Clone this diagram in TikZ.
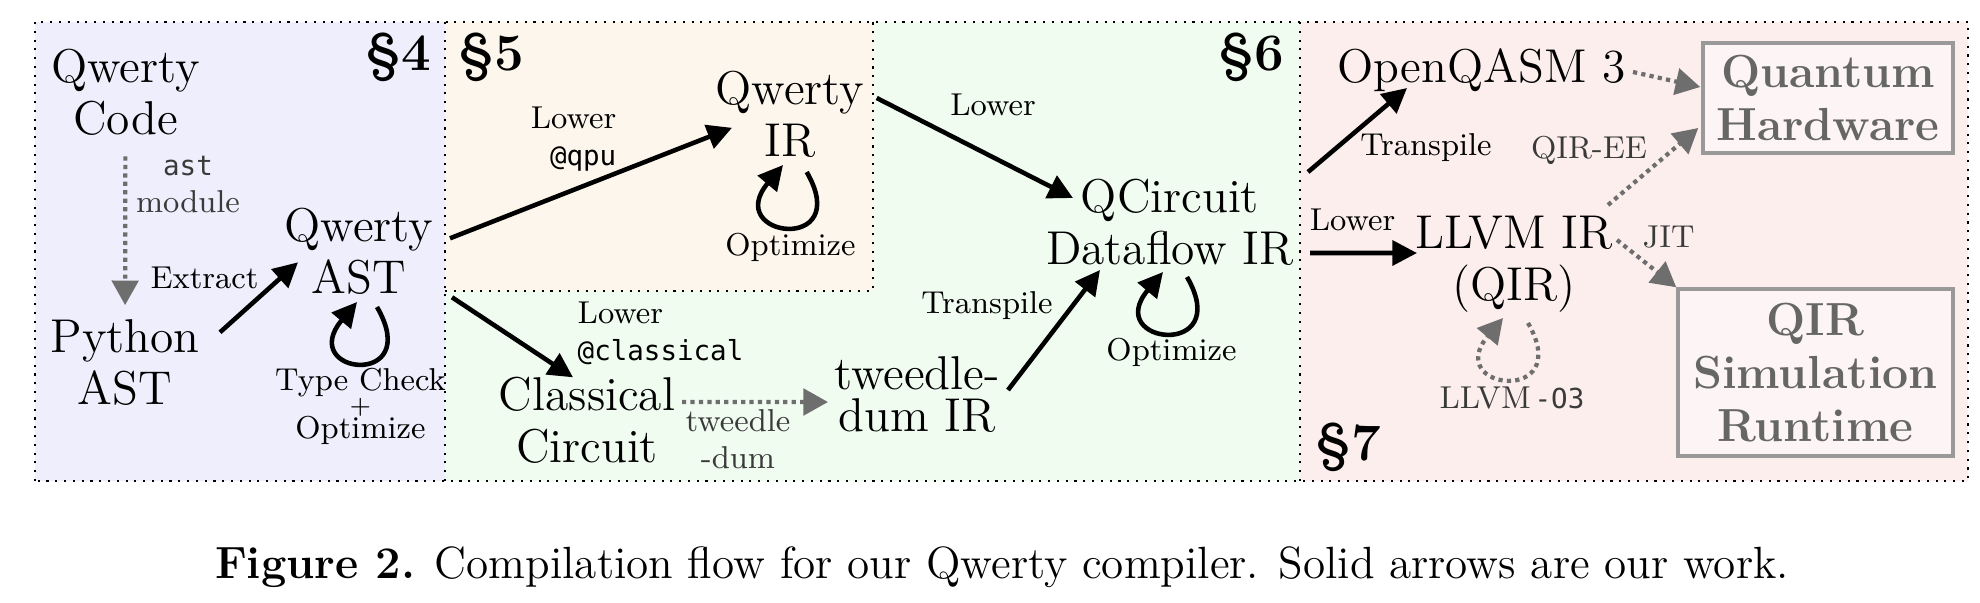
\documentclass[tikz,border=0pt]{standalone}
\usepackage{fontspec}
\setmonofont{DejaVu Sans Mono}[Scale=0.87]
\usetikzlibrary{arrows.meta,calc}
\pgfdeclarelayer{background}
\pgfsetlayers{background,main}

\definecolor{secfour}{HTML}{EEEEFC}
\definecolor{secfive}{HTML}{FDF6EC}
\definecolor{secsix}{HTML}{F1FCF1}
\definecolor{secseven}{HTML}{FDEEEE}
\definecolor{boxfill}{HTML}{FDF5F5}
\definecolor{greytext}{HTML}{666666}
\definecolor{greyline}{HTML}{999999}
\definecolor{dotgrey}{HTML}{6E6E6E}
\definecolor{lblgrey}{HTML}{3A3A3A}

\tikzset{
  stage/.style={align=center, inner sep=1pt, font=\fontsize{13.5}{14.8}\selectfont},
  lbl/.style={align=center, inner sep=0pt, font=\fontsize{9}{10.5}\selectfont},
  greylbl/.style={lbl, text=lblgrey},
  sec/.style={inner sep=0pt, font=\fontsize{15}{15}\selectfont\bfseries},
  target/.style={draw=greyline, line width=1pt, fill=boxfill, text=greytext, align=center,
    inner sep=0pt, font=\fontsize{13.2}{15}\selectfont\bfseries},
  flow/.style={line width=1.3pt, -{Triangle[length=7pt,width=7pt]}},
  ext/.style={dotgrey, line width=1.2pt, dash pattern=on 1.2pt off 1.2pt,
    -{Triangle[length=7pt,width=7.5pt]}},
  border/.style={line width=0.6pt, dash pattern=on 0.6pt off 1.9pt},
}

\begin{document}
\begin{tikzpicture}
\useasboundingbox (0,0) rectangle (19.8,6.02);

% section areas
\begin{pgfonlayer}{background}
\fill[secfour] (0.35,1.21) rectangle (4.45,5.803);
\fill[secsix] (4.45,1.21) rectangle (13.00,5.803);
\fill[secfive] (4.45,3.113) rectangle (8.73,5.803);
\fill[secseven] (13.00,1.21) rectangle (19.68,5.803);
\draw[border] (0.35,1.21) rectangle (19.68,5.803);
\draw[border] (4.45,1.21) -- (4.45,5.803);
\draw[border] (4.45,3.113) -| (8.73,5.803);
\draw[border] (13.00,1.21) -- (13.00,5.803);
\end{pgfonlayer}

\node[sec, anchor=base east] (s4) at (4.32,5.32) {\S4};
\node[sec, anchor=base west] (s5) at (4.58,5.32) {\S5};
\node[sec, anchor=base east] (s6) at (12.85,5.32) {\S6};
\node[sec, anchor=base west] (s7) at (13.15,1.42) {\S7};

% stages
\node[stage] (code) at (1.255,5.10) {Qwerty\\Code};
\node[stage] (past) at (1.25,2.397) {Python\\AST};
\node[stage] (qast) at (3.59,3.507) {Qwerty\\AST};
\node[stage] (qir) at (7.90,4.882) {Qwerty\\IR};
\node[stage] (classical) at (5.87,1.817) {Classical\\Circuit};
\node[stage, font=\fontsize{13.5}{12}\selectfont] (tweedle) at (9.17,2.075) {tweedle-\\dum IR};
\node[stage] (qcirc) at (11.70,3.797) {QCircuit\\Dataflow IR};
\node[stage, anchor=base] (qasm) at (14.815,5.20) {OpenQASM 3};
\node[stage] (llvm) at (15.14,3.377) {LLVM IR\\(QIR)};
\node[target, minimum width=2.50cm, minimum height=1.10cm] (qhw) at (18.28,5.04) {Quantum\\Hardware};
\node[target, minimum width=2.75cm, minimum height=1.67cm] (qsim) at (18.155,2.295) {QIR\\Simulation\\Runtime};

% labels
\node[greylbl] (astlbl) at (1.88,4.175) {\texttt{ast}\\module};
\node[lbl, anchor=base] (extract) at (2.045,3.14) {Extract};
\node[lbl] (typecheck) at (3.605,1.952) {Type Check\\[-4pt]{\fontsize{7}{7}\selectfont+}\\[-3.3pt]Optimize};
\node[lbl, align=right, anchor=east] (lowerqpu) at (6.17,4.63) {Lower\\\texttt{@qpu}};
\node[lbl, align=left, anchor=west] (lowercl) at (5.77,2.69) {Lower\\\texttt{@classical}};
\node[greylbl] (tweedlelbl) at (7.38,1.625) {tweedle\\-dum};
\node[lbl, anchor=base] (optqir) at (7.905,3.47) {Optimize};
\node[lbl, anchor=base] (lowerqc) at (9.93,4.87) {Lower};
\node[lbl, anchor=base] (transpl1) at (9.87,2.89) {Transpile};
\node[lbl, anchor=base] (optqc) at (11.715,2.42) {Optimize};
\node[lbl, anchor=base] (transpl2) at (14.26,4.47) {Transpile};
\node[lbl, anchor=base] (lowerllvm) at (13.525,3.72) {Lower};
\node[greylbl, anchor=base] (qiree) at (15.89,4.44) {QIR-EE};
\node[greylbl, anchor=base] (jit) at (16.685,3.55) {JIT};
\node[greylbl, anchor=base] (othree) at (15.12,1.94) {LLVM\hspace{0.12em}\texttt{-O3}};

% arrows
\draw[ext, shorten <=1.7mm, shorten >=1mm] (code) -- (past);
\draw[flow] ([shift={(0.95,0.30)}]past.center) -- ([shift={(-0.61,-0.11)}]qast.center);
\draw[flow] ([shift={(0.91,0.13)}]qast.center) -- ([shift={(-0.58,-0.14)}]qir.center);
\draw[flow] ([shift={(0.93,-0.46)}]qast.center) -- ([shift={(-0.14,0.43)}]classical.center);
\draw[ext] ([shift={(0.95,0.183)}]classical.center) -- ([shift={(-0.89,-0.075)}]tweedle.center);
\draw[flow] ([shift={(0.91,0.045)}]tweedle.center) -- ([shift={(-0.70,-0.477)}]qcirc.center);
\draw[flow] ([shift={(0.867,0.158)}]qir.center) -- ([shift={(-0.97,0.243)}]qcirc.center);
\draw[flow] ([shift={(1.38,0.503)}]qcirc.center) -- ([shift={(-0.745,-0.06)}]qasm.base);
\draw[flow] ([shift={(1.40,-0.307)}]qcirc.center) -- ([shift={(-0.97,0.113)}]llvm.center);
\draw[ext] ([shift={(1.515,0.10)}]qasm.base) -- ([shift={(-0.01,0.11)}]qhw.west);
\draw[ext] ([shift={(0.94,0.593)}]llvm.center) -- ([shift={(-0.03,-0.30)}]qhw.west);
\draw[ext] ([shift={(1.03,0.243)}]llvm.center) -- (qsim.north west);

% optimisation loops
\draw[flow] ([shift={(0.18,-0.557)}]qast.center) .. controls +(-60:0.95) and +(-130:0.95) .. ([shift={(-0.02,-0.507)}]qast.center);
\draw[flow] ([shift={(0.167,-0.582)}]qir.center) .. controls +(-60:0.95) and +(-130:0.95) .. ([shift={(-0.07,-0.512)}]qir.center);
\draw[flow] ([shift={(0.17,-0.547)}]qcirc.center) .. controls +(-60:0.95) and +(-130:0.95) .. ([shift={(-0.07,-0.497)}]qcirc.center);
\draw[ext] ([shift={(0.14,-0.587)}]llvm.center) .. controls +(-60:0.95) and +(-130:0.95) .. ([shift={(-0.11,-0.537)}]llvm.center);

\node[anchor=base, font=\fontsize{12.85}{14}\selectfont] (caption) at (10.02,0.24)
  {\textbf{Figure 2.} Compilation flow for our Qwerty compiler. Solid arrows are our work.};
\end{tikzpicture}
\end{document}
